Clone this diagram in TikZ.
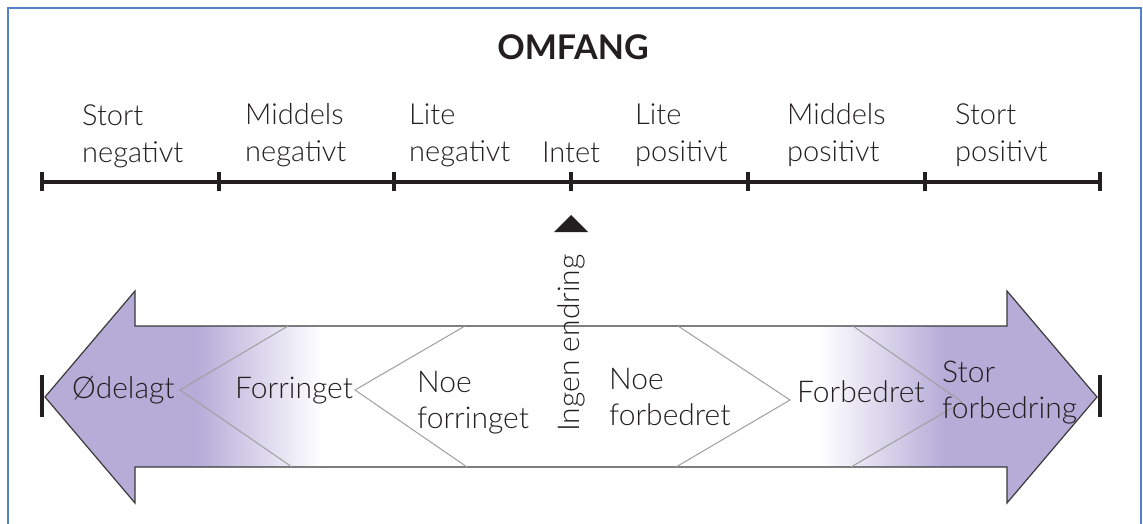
\documentclass[tikz,border=0pt]{standalone}
\usepackage{fontspec}
\setmainfont{Lato}
\newfontfamily\lightfont{Lato Light}
\definecolor{txt}{HTML}{231F20}
\definecolor{purp}{HTML}{B5ACD8}
\definecolor{framec}{HTML}{5482C8}
\definecolor{outl}{HTML}{3A3A3A}
\tikzset{
  lbl/.style={anchor=base west, align=left, inner sep=0pt, text=txt, font=\lightfont\fontsize{29}{36}\selectfont},
  alb/.style={anchor=base west, align=left, inner sep=0pt, text=txt, font=\lightfont\fontsize{30}{36}\selectfont},
  axisline/.style={line width=3.6pt, txt},
  tick/.style={line width=3.4pt, txt},
  chev/.style={gray!75, line width=1pt},
  bigarrow/.style={draw=outl, line width=1.2pt, line join=miter},
}
\begin{document}
\begin{tikzpicture}[x=1pt,y=-1pt]
\useasboundingbox (0,0) rectangle (1143,524);
\fill[white] (0,0) rectangle (1143,524);
\draw[framec, line width=2pt] (8,540) -- (8,8) -- (1141,8) -- (1141,540);

% title
\node[anchor=base, inner sep=0pt, text=txt, font=\fontsize{34}{38}\selectfont\bfseries] (title) at (573,60) {OMFANG};

% scale axis
\foreach \i/\x in {0/42,1/219,2/394,3/571,4/748,5/925,6/1100}{
  \coordinate (t\i) at (\x,182);
  \draw[tick] (\x,172) -- (\x,191);
}
\draw[axisline] (t0) -- (t6);

% scale labels
\node[lbl] (s1) at (82,162) {Stort\\negativt};
\node[lbl] (s2) at (245,161) {Middels\\negativt};
\node[lbl] (s3) at (409,161) {Lite\\negativt};
\node[anchor=base, inner sep=0pt, text=txt, font=\lightfont\fontsize{29}{36}\selectfont] (s4) at (571,162) {Intet};
\node[lbl] (s5) at (635,161) {Lite\\positivt};
\node[lbl] (s6) at (787,161) {Middels\\positivt};
\node[lbl] (s7) at (955,161) {Stort\\positivt};

% pointer triangle
\fill[txt] (554,232) -- (571,215) -- (588,232) -- cycle;

% big double arrow
\def\arrowpath{(45,397) -- (135,291) -- (135,326) -- (1007,326) -- (1007,291) -- (1097,397) -- (1007,503) -- (1007,467) -- (135,467) -- (135,503) -- cycle}
\begin{scope}
  \clip \arrowpath;
  \fill[purp] (0,280) rectangle (198,520);
  \shade[left color=purp, right color=white] (197,280) rectangle (322,520);
  \fill[purp] (944,280) rectangle (1143,520);
  \shade[left color=white, right color=purp] (820,280) rectangle (945,520);
\end{scope}
\draw[bigarrow] \arrowpath;

% chevron lines
\draw[chev] (288,326) -- (180,390) -- (292,467);
\draw[chev] (465,326) -- (355,390) -- (467,467);
\draw[chev] (678,326) -- (790,400) -- (676,467);
\draw[chev] (853,326) -- (962,402) -- (851,467);

% end bars
\draw[line width=4pt, txt] (42,375) -- (42,417);
\draw[line width=4pt, txt] (1100,375) -- (1100,417);

% arrow labels
\node[alb] (a1) at (72,398) {Ødelagt};
\node[alb] (a2) at (235,398) {Forringet};
\node[alb] (a3) at (417,428) {Noe\\forringet};
\node[alb] (a4) at (609,425) {Noe\\forbedret};
\node[alb] (a5) at (797,402) {Forbedret};
\node[alb] (a6) at (942,418) {Stor\\forbedring};
\node[anchor=base, rotate=90, inner sep=0pt, text=txt, font=\lightfont\fontsize{30}{36}\selectfont] (ie) at (579,343) {Ingen endring};
\end{tikzpicture}
\end{document}
